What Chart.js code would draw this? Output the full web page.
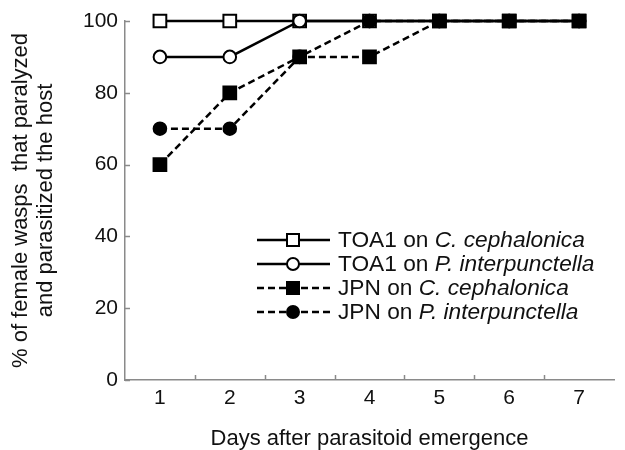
<!DOCTYPE html>
<html>
<head>
<meta charset="utf-8">
<script src="https://cdn.jsdelivr.net/npm/chart.js@4"></script>
<style>
  html, body { margin: 0; padding: 0; background: #fff; }
  #wrap { width: 625px; height: 450px; }
</style>
</head>
<body>
<div id="wrap"><canvas id="chart" width="625" height="450"></canvas></div>
<script>
// ===== Data =====
const days = ["1", "2", "3", "4", "5", "6", "7"];
const toaCeph = [100, 100, 100, 100, 100, 100, 100];
const toaInter = [90, 90, 100, 100, 100, 100, 100];
const jpnCeph = [60, 80, 90, 90, 100, 100, 100];
const jpnInter = [70, 70, 90, 100, 100, 100, 100];
const strainNames = ["TOA1 on ", "TOA1 on ", "JPN on ", "JPN on "];
const hostNames = ["C. cephalonica", "P. interpunctella", "C. cephalonica", "P. interpunctella"];
const yTicks = [0, 20, 40, 60, 80, 100];

const FONT = "'Liberation Sans', Arial, sans-serif";
const AXIS = "#8a8a8a";
const DASH = [7, 4];

function series(i, data, style, filled, dashed, order) {
  return {
    label: strainNames[i] + hostNames[i],
    data: data,
    borderColor: "#000",
    backgroundColor: filled ? "#000" : "#fff",
    borderWidth: 2.5,
    borderDash: dashed ? DASH : [],
    pointStyle: style,
    pointRadius: style === "rect" ? 9 : 6.3,
    pointBorderWidth: 2,
    pointBorderColor: "#000",
    pointBackgroundColor: filled ? "#000" : "#fff",
    tension: 0,
    clip: false,
    order: order,
  };
}

// ===== Inner ticks + legend with italic species names =====
const extras = {
  id: "extras",
  afterDraw(chart) {
    const ctx = chart.ctx;
    const xs = chart.scales.x, ys = chart.scales.y;
    const area = chart.chartArea;
    ctx.save();
    ctx.strokeStyle = AXIS;
    ctx.lineWidth = 1.5;
    // x ticks between categories, pointing up
    for (let i = 0; i < days.length - 1; i++) {
      const x = (xs.getPixelForValue(i) + xs.getPixelForValue(i + 1)) / 2;
      ctx.beginPath();
      ctx.moveTo(Math.round(x) + 0.5, area.bottom);
      ctx.lineTo(Math.round(x) + 0.5, area.bottom - 5);
      ctx.stroke();
    }
    // y ticks pointing right
    yTicks.forEach((v) => {
      const y = Math.round(ys.getPixelForValue(v)) + 0.5;
      ctx.beginPath();
      ctx.moveTo(area.left, y);
      ctx.lineTo(area.left + 5, y);
      ctx.stroke();
    });

    // legend
    const x0 = 257, x1 = 330, tx = 338, top = 239.5, step = 24.3;
    chart.data.datasets.forEach((ds, i) => {
      const y = Math.round(top + i * step);
      ctx.strokeStyle = "#000";
      ctx.lineWidth = 2.5;
      ctx.setLineDash(ds.borderDash);
      ctx.beginPath();
      ctx.moveTo(x0, y);
      ctx.lineTo(x1, y);
      ctx.stroke();
      ctx.setLineDash([]);
      ctx.lineWidth = 2;
      ctx.fillStyle = ds.pointBackgroundColor;
      const cx = 293;
      ctx.beginPath();
      if (ds.pointStyle === "rect") {
        ctx.rect(cx - 6, y - 6, 12, 12);
      } else {
        ctx.arc(cx, y, 6, 0, Math.PI * 2);
      }
      ctx.fill();
      ctx.stroke();

      ctx.fillStyle = "#111";
      ctx.textBaseline = "middle";
      ctx.textAlign = "left";
      ctx.font = "22.7px " + FONT;
      ctx.fillText(strainNames[i], tx, y + 1);
      const w = ctx.measureText(strainNames[i]).width;
      ctx.font = "italic 22.7px " + FONT;
      ctx.fillText(hostNames[i], tx + w, y + 1);
    });
    ctx.restore();
  },
};

const chart = new Chart(document.getElementById("chart").getContext("2d"), {
  type: "line",
  data: {
    labels: days,
    datasets: [
      series(0, toaCeph, "rect", false, false, 4),
      series(1, toaInter, "circle", false, false, 3),
      series(2, jpnCeph, "rect", true, true, 1),
      series(3, jpnInter, "circle", true, true, 2),
    ],
  },
  options: {
    responsive: false,
    animation: false,
    layout: { padding: { top: 21, right: 0, left: 0, bottom: 0 } },
    plugins: {
      legend: { display: false },
      tooltip: { enabled: false },
    },
    scales: {
      x: {
        offset: true,
        grid: { display: false, drawTicks: false },
        border: { color: AXIS, width: 1.5 },
        ticks: { color: "#111", font: { family: FONT, size: 21 }, padding: 6 },
        title: {
          display: true,
          text: "Days after parasitoid emergence",
          color: "#111",
          font: { family: FONT, size: 22, lineHeight: 1 },
          padding: { top: 0, bottom: 0 },
        },
        afterFit: (s) => { s.height = 70; },
      },
      y: {
        min: 0,
        max: 100,
        afterBuildTicks: (s) => { s.ticks = yTicks.map((v) => ({ value: v })); },
        grid: { display: false, drawTicks: false },
        border: { color: AXIS, width: 1.5 },
        ticks: { color: "#111", font: { family: FONT, size: 21 }, padding: 7 },
        title: {
          display: true,
          text: ["% of female wasps  that paralyzed", "and parasitized the host"],
          color: "#111",
          font: { family: FONT, size: 22, lineHeight: 1.14 },
          padding: { top: 8.5, bottom: 0 },
        },
        afterFit: (s) => { s.width = 125; },
      },
    },
  },
  plugins: [extras],
});
</script>
</body>
</html>
